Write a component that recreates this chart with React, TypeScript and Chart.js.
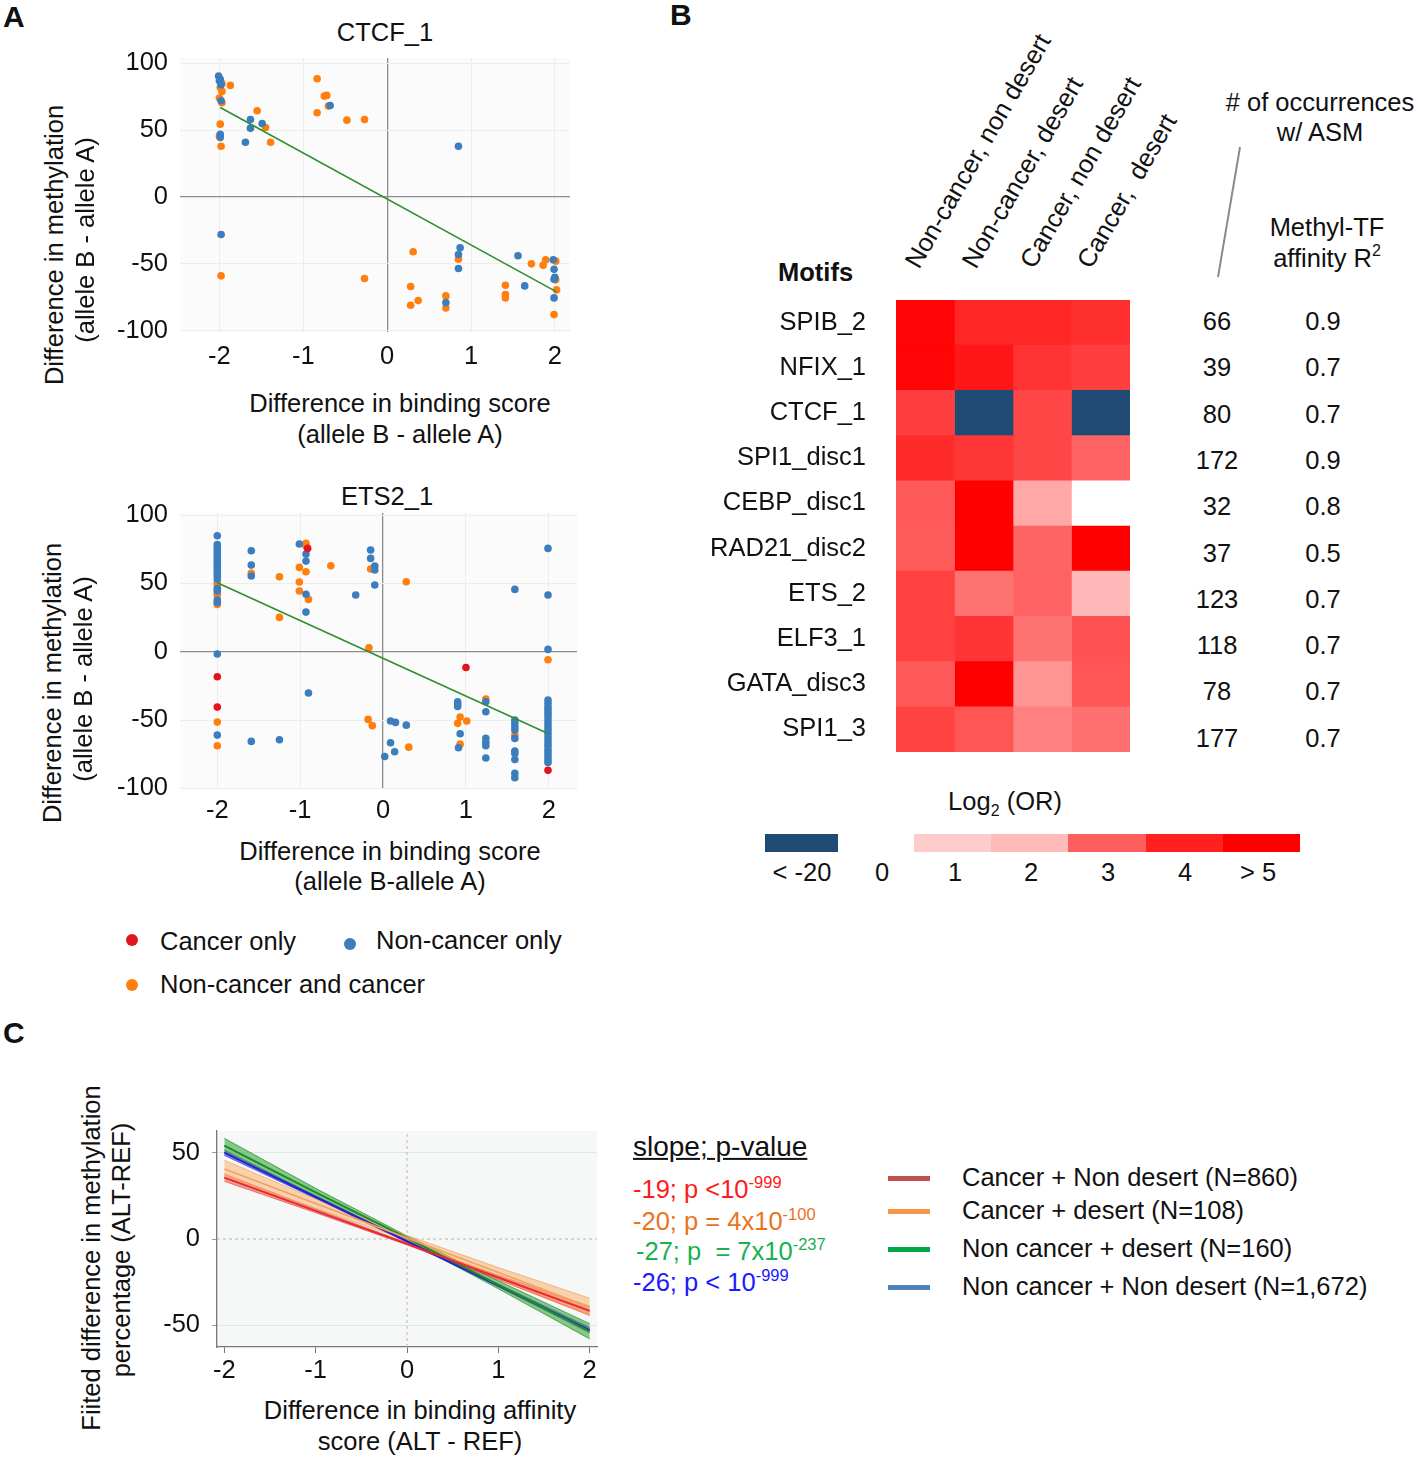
import React, { useEffect, useRef } from 'react';
import { Chart, registerables } from 'chart.js';

Chart.register(...registerables);

const FONT = '"Liberation Sans", Arial, Helvetica, sans-serif';
Chart.defaults.font.family = FONT;

// ---------------- Panel A data ----------------
const A_X_TICKS = [-2, -1, 0, 1, 2];
const A_Y_TICKS = [-100, -50, 0, 50, 100];

const CTCF_ORANGE: [number, number][] = [
  [-1.97, 85], [-1.99, 82], [-1.97, 79], [-2.0, 74], [-1.97, 70.5], [-1.87, 83.5], [-1.99, 54.5],
  [-2.0, 45.5], [-1.98, 38], [-1.98, -59], [-1.55, 64.5], [-1.45, 52], [-1.39, 41], [-0.835, 88.5],
  [-0.75, 75.5], [-0.72, 76], [-0.7, 68], [-0.835, 63], [-0.48, 57.5], [-0.27, 58], [-0.27, -61],
  [0.31, -41], [0.28, -67], [0.28, -81], [0.37, -77.5], [0.7, -74], [0.7, -83], [0.85, -46.5],
  [1.41, -66], [1.41, -73], [1.41, -75.5], [1.72, -50], [1.86, -51], [1.89, -47], [2.01, -48],
  [2.01, -62], [2.02, -69.5], [1.99, -88],
];
const CTCF_BLUE: [number, number][] = [
  [-2.01, 90.5], [-1.99, 88], [-2.0, 87], [-1.98, 84], [-1.98, 72], [-1.99, 47], [-1.99, 44.5],
  [-1.98, -28], [-1.63, 58], [-1.63, 51.5], [-1.49, 55], [-1.69, 41], [-0.68, 68.5], [0.85, 38],
  [0.87, -38], [0.85, -43], [0.85, -53.5], [0.7, -79], [1.56, -44], [1.64, -66.5], [1.98, -47],
  [1.99, -54], [2.0, -60], [1.99, -61.5], [1.99, -75.5],
];
const CTCF_RED: [number, number][] = [];
const CTCF_FIT: [number, number][] = [[-1.99, 67], [2.02, -71]];

const ETS_ORANGE: [number, number][] = [
  [-2, 50.7], [-2, 48.8], [-2, 43.4], [-2, 41.5], [-2, 34.6], [-2, -51.5], [-2, -68.8],
  [-1.59, 57.3], [-1.25, 54.9], [-1.25, 25.1], [-1.01, 61.7], [-1.01, 51], [-1.01, 44.4],
  [-0.93, 79.3], [-0.93, 77.1], [-0.93, 58.5], [-0.9, 38.3], [-0.63, 62.9], [-0.15, 60.5],
  [-0.17, 2.9], [-0.18, -49.5], [-0.13, -54.1], [0.28, 51.2], [0.31, -69.8], [0.9, -52.4],
  [0.93, -47.8], [0.93, -67.6], [1.01, -50.7], [1.24, -34.6], [1.59, -61], [1.99, -5.9],
];
const ETS_BLUE: [number, number][] = [
  [-2, 84.9], [-2, 78.5], [-2, 76.3], [-2, 74.4], [-2, 72.4], [-2, 70.7], [-2, 68.8], [-2, 67.1],
  [-2, 65.4], [-2, 63.4], [-2, 61.5], [-2, 59.5], [-2, 57.3], [-2, 55.4], [-2, 53.2], [-2, 46.3],
  [-2, 44.4], [-2, 37.8], [-2, 36.1], [-2, -1.7], [-2, -61],
  [-1.59, 73.9], [-1.59, 63.4], [-1.59, 55.4], [-1.59, -65.6], [-1.25, -64.4], [-1.01, 78.8],
  [-0.93, 71.5], [-0.93, 66.3], [-0.93, 42], [-0.93, 29], [-0.9, -30.2], [-0.33, 41.5],
  [-0.15, 74.4], [-0.15, 68.3], [-0.1, 62.7], [-0.1, 59.8], [-0.1, 48.8], [0.09, -50.7],
  [0.15, -51.7], [0.28, -53.7], [0.09, -66.6], [0.14, -73.2], [0.02, -76.6], [0.9, -36.6],
  [0.9, -38.3], [0.9, -40], [0.93, -60], [0.91, -70.2], [1.24, -36.6], [1.24, -43.9],
  [1.24, -63.4], [1.24, -66.3], [1.24, -68.8], [1.24, -77.8], [1.59, 45.6], [1.59, -50],
  [1.59, -52.4], [1.59, -54.9], [1.59, -57.3], [1.59, -63.4], [1.59, -72.7], [1.59, -74.4],
  [1.59, -78.8], [1.59, -89], [1.59, -92.2], [1.99, 75.6], [1.99, 41.5], [1.99, 1.7],
  [1.99, -35.4], [1.99, -37.8], [1.99, -40.5], [1.99, -42.7], [1.99, -45.1], [1.99, -47.3],
  [1.99, -50], [1.99, -52.6], [1.99, -54.9], [1.99, -57.3], [1.99, -59.6], [1.99, -62.2],
  [1.99, -64.6], [1.99, -67.1], [1.99, -69.3], [1.99, -72], [1.99, -74.4], [1.99, -76.8],
  [1.99, -79.3], [1.99, -81],
];
const ETS_RED: [number, number][] = [[-2, -18.3], [-2, -40.5], [-0.91, 75.6], [1.0, -11.5], [1.99, -86.8]];
const ETS_FIT: [number, number][] = [[-2, 50.5], [1.99, -59.8]];

// ---------------- Panel B data ----------------
const MOTIFS = ['SPIB_2', 'NFIX_1', 'CTCF_1', 'SPI1_disc1', 'CEBP_disc1', 'RAD21_disc2', 'ETS_2', 'ELF3_1', 'GATA_disc3', 'SPI1_3'];
const CONDITIONS = ['Non-cancer, non desert', 'Non-cancer, desert', 'Cancer, non desert', 'Cancer,  desert'];
const LOG2_OR: number[][] = [
  [4.85, 3.9, 3.9, 3.77],
  [4.85, 4.3, 3.7, 3.5],
  [3.5, -25, 3.38, -25],
  [3.84, 3.65, 3.38, 2.96],
  [3.06, 5.5, 2.2, 0],
  [3.03, 5.5, 2.93, 5.5],
  [3.47, 2.78, 2.96, 2.02],
  [3.47, 3.68, 2.78, 3.2],
  [3.06, 5.5, 2.41, 3.15],
  [3.44, 3.15, 2.63, 2.8],
];
const OCCURRENCES = [66, 39, 80, 172, 32, 37, 123, 118, 78, 177];
const R2 = ['0.9', '0.7', '0.7', '0.9', '0.8', '0.5', '0.7', '0.7', '0.7', '0.7'];
const LEGEND_BINS = [1, 2, 3, 4, 5];
const LEGEND_LABELS = ['< -20', '0', '1', '2', '3', '4', '> 5'];

// ---------------- Panel C data ----------------
const C_X = [-2, -1, 0, 1, 2];
const C_X_TICKS = [-2, -1, 0, 1, 2];
const C_Y_TICKS = [-50, 0, 50];
const C_RED_FIT = [35.5, 16.3, -2.8, -22.3, -41.6];
const C_RED_HI = [37.6, 17.4, -2.2, -21.0, -39.0];
const C_RED_LO = [33.4, 15.2, -3.4, -23.6, -44.2];
const C_ORANGE_FIT = [40.5, 20.5, 0.6, -19.4, -39.3];
const C_ORANGE_HI = [45.6, 23.2, 2.0, -16.5, -34.3];
const C_ORANGE_LO = [35.5, 17.8, -0.8, -22.3, -44.3];
const C_GREEN_FIT = [54.0, 27.0, 0.6, -26.5, -53.4];
const C_GREEN_HI = [58.3, 29.3, 1.8, -24.2, -49.0];
const C_GREEN_LO = [49.8, 24.7, -0.6, -28.8, -57.8];
const C_BLUE_FIT = [50.0, 24.3, -1.3, -26.9, -52.7];
const C_BLUE_HI = [51.6, 25.1, -0.8, -26.1, -51.1];
const C_BLUE_LO = [48.4, 23.5, -1.8, -27.7, -54.3];

// ---------------- helpers ----------------
const ORANGE = '#ff7f0e';
const BLUE = '#3b7dbd';
const RED = '#e3141e';

const HEAT_STOPS: [number, number][] = [[0, 255], [1, 204], [2, 186], [3, 94], [4, 32], [5, 0]];
function heatColor(v: number): string {
  if (v <= -20) return '#1f4a73';
  if (v >= 5) return 'rgb(255,0,0)';
  if (v <= 0) return '#ffffff';
  for (let i = 1; i < HEAT_STOPS.length; i++) {
    const [v0, g0] = HEAT_STOPS[i - 1];
    const [v1, g1] = HEAT_STOPS[i];
    if (v <= v1) {
      const g = Math.round(g0 + ((g1 - g0) * (v - v0)) / (v1 - v0));
      return `rgb(255,${g},${g})`;
    }
  }
  return 'rgb(255,0,0)';
}

const bgPlugin = (id: string, color: string) => ({
  id,
  beforeDraw(chart: any) {
    const { ctx, chartArea: a } = chart;
    ctx.save();
    ctx.fillStyle = color;
    ctx.fillRect(a.left, a.top, a.right - a.left, a.bottom - a.top);
    ctx.restore();
  },
});

// fix the axis box size and drop label-overflow padding so the plot area is deterministic
const fixH = (h: number) => (s: any) => { s.height = h; s.paddingLeft = 0; s.paddingRight = 0; s.paddingTop = 0; s.paddingBottom = 0; };
const fixW = (w: number) => (s: any) => { s.width = w; s.paddingLeft = 0; s.paddingRight = 0; s.paddingTop = 0; s.paddingBottom = 0; };

const pts = (arr: [number, number][]) => arr.map(([x, y]) => ({ x, y }));
const xy = (xs: number[], ys: number[]) => xs.map((x, i) => ({ x, y: ys[i] }));

function ChartBox({ left, top, width, height, make }: { left: number; top: number; width: number; height: number; make: () => any }) {
  const ref = useRef<HTMLCanvasElement>(null);
  useEffect(() => {
    const chart = new Chart(ref.current as HTMLCanvasElement, make());
    return () => chart.destroy();
  }, []);
  return (
    <canvas
      ref={ref}
      width={width}
      height={height}
      style={{ position: 'absolute', left, top, width, height, display: 'block' }}
    />
  );
}

type TP = {
  x: number; y: number; a?: 'l' | 'c' | 'r'; s?: number; w?: number; c?: string; rot?: number;
  children: React.ReactNode; style?: React.CSSProperties;
};
function T({ x, y, a = 'l', s = 25.5, w = 400, c = '#111', rot = 0, children, style }: TP) {
  const tx = a === 'l' ? '0%' : a === 'c' ? '-50%' : '-100%';
  return (
    <div
      style={{
        position: 'absolute', left: x, top: y,
        transform: `translate(${tx},-50%)${rot ? ` rotate(${rot}deg)` : ''}`,
        fontSize: s, fontWeight: w, color: c, whiteSpace: 'pre', lineHeight: 1.15, fontFamily: FONT,
        ...style,
      }}
    >
      {children}
    </div>
  );
}

function scatterConfig(orange: [number, number][], blue: [number, number][], red: [number, number][], fit: [number, number][], xMin: number, xMax: number, yMin: number, yMax: number, tickPad: number) {
  const dot = (data: [number, number][], color: string, order: number) => ({
    data: pts(data), backgroundColor: color, pointBackgroundColor: color, pointRadius: 3.8,
    pointBorderWidth: 0, borderWidth: 0, order,
  });
  return {
    type: 'scatter',
    data: {
      datasets: [
        { data: pts(fit), showLine: true, borderColor: '#2f8f2f', borderWidth: 1.6, pointRadius: 0, order: 0 },
        dot(red, RED, 1),
        dot(blue, BLUE, 2),
        dot(orange, ORANGE, 3),
      ],
    },
    options: {
      responsive: false, animation: false, events: [],
      layout: { padding: { left: 0, right: 10, top: 18, bottom: 0 } },
      plugins: { legend: { display: false }, tooltip: { enabled: false } },
      scales: {
        x: {
          type: 'linear', min: xMin, max: xMax,
          afterBuildTicks: (s: any) => { s.ticks = A_X_TICKS.map((v) => ({ value: v })); },
          afterFit: fixH(48),
          grid: { color: (c: any) => (c.tick && c.tick.value === 0 ? '#8c8c8c' : '#ededed'), lineWidth: (c: any) => (c.tick && c.tick.value === 0 ? 1.3 : 1), drawTicks: false },
          border: { display: false },
          ticks: { padding: tickPad, font: { size: 25.5 }, color: '#111', callback: (v: any) => String(v) },
        },
        y: {
          type: 'linear', min: yMin, max: yMax,
          afterBuildTicks: (s: any) => { s.ticks = A_Y_TICKS.map((v) => ({ value: v })); },
          afterFit: fixW(80),
          grid: { color: (c: any) => (c.tick && c.tick.value === 0 ? '#8c8c8c' : '#ededed'), lineWidth: (c: any) => (c.tick && c.tick.value === 0 ? 1.3 : 1), drawTicks: false },
          border: { display: false },
          ticks: { padding: 12, font: { size: 25.5 }, color: '#111', callback: (v: any) => String(v) },
        },
      },
    },
    plugins: [bgPlugin('bgA', '#fbfbfb')],
  };
}

function heatConfig() {
  return {
    type: 'bar',
    data: {
      labels: MOTIFS,
      datasets: CONDITIONS.map((cond, c) => ({
        label: cond,
        data: MOTIFS.map(() => [c, c + 1]),
        backgroundColor: MOTIFS.map((_, r) => heatColor(LOG2_OR[r][c])),
        borderWidth: 0,
        barPercentage: 1,
        categoryPercentage: 1,
        grouped: false,
      })),
    },
    options: {
      indexAxis: 'y', responsive: false, animation: false, events: [],
      layout: { padding: { left: 0, right: 10, top: 10, bottom: 8 } },
      plugins: { legend: { display: false }, tooltip: { enabled: false } },
      scales: {
        x: { type: 'linear', min: 0, max: CONDITIONS.length, display: false },
        y: {
          type: 'category',
          grid: { display: false }, border: { display: false },
          ticks: { font: { size: 25.5 }, color: '#111', padding: 22 },
          afterFit: fixW(206),
        },
      },
    },
  };
}

function cConfig() {
  const band = (lo: number[], hi: number[], loIdx: number, fill: string, edge: string, order: number) => [
    { data: xy(C_X, lo), borderWidth: 1, borderColor: edge, pointRadius: 0, fill: false, order },
    { data: xy(C_X, hi), borderWidth: 1, borderColor: edge, pointRadius: 0, fill: { target: loIdx }, backgroundColor: fill, order },
  ];
  const line = (ys: number[], color: string, order: number, w = 2) => ({
    data: xy(C_X, ys), borderColor: color, borderWidth: w, pointRadius: 0, fill: false, order,
  });
  const datasets: any[] = [
    { data: [{ x: -2.08, y: 0 }, { x: 2.08, y: 0 }], borderColor: '#b5b5b5', borderWidth: 1, borderDash: [3, 3], pointRadius: 0, fill: false, order: 30 },
    { data: [{ x: 0, y: -62.5 }, { x: 0, y: 62.5 }], borderColor: '#b5b5b5', borderWidth: 1, borderDash: [3, 3], pointRadius: 0, fill: false, order: 30 },
    ...band(C_BLUE_LO, C_BLUE_HI, 2, 'rgba(55,55,225,0.6)', 'rgba(40,40,200,0.6)', 14),
    ...band(C_GREEN_LO, C_GREEN_HI, 4, 'rgba(60,170,60,0.6)', 'rgba(30,140,30,0.7)', 13),
    ...band(C_RED_LO, C_RED_HI, 6, 'rgba(240,80,80,0.55)', 'rgba(230,50,50,0.6)', 12),
    ...band(C_ORANGE_LO, C_ORANGE_HI, 8, 'rgba(250,170,100,0.5)', 'rgba(240,150,80,0.6)', 11),
    line(C_BLUE_FIT, '#2222d8', 4),
    line(C_GREEN_FIT, '#1f8a2a', 3),
    line(C_ORANGE_FIT, '#f4a060', 2, 1.6),
    line(C_RED_FIT, '#e82a2a', 1),
  ];
  return {
    type: 'line',
    data: { datasets },
    options: {
      responsive: false, animation: false, events: [],
      layout: { padding: { left: 0, right: 13, top: 21, bottom: 0 } },
      plugins: { legend: { display: false }, tooltip: { enabled: false } },
      scales: {
        x: {
          type: 'linear', min: -2.08, max: 2.08,
          afterBuildTicks: (s: any) => { s.ticks = C_X_TICKS.map((v) => ({ value: v })); },
          afterFit: fixH(43),
          grid: { display: true, drawOnChartArea: false, drawTicks: true, tickLength: 6, tickColor: '#777' },
          border: { display: true, color: '#777', width: 1.3 },
          ticks: { padding: 3, font: { size: 25.5 }, color: '#111', callback: (v: any) => String(v) },
        },
        y: {
          type: 'linear', min: -62.5, max: 62.5,
          afterBuildTicks: (s: any) => { s.ticks = C_Y_TICKS.map((v) => ({ value: v })); },
          afterFit: fixW(77),
          grid: { color: (c: any) => (c.tick && c.tick.value === 0 ? 'rgba(0,0,0,0)' : '#dde8e4'), drawTicks: true, tickLength: 5, tickColor: '#999' },
          border: { display: true, color: '#777', width: 1.3 },
          ticks: { padding: 12, font: { size: 25.5 }, color: '#111', callback: (v: any) => String(v) },
        },
      },
    },
    plugins: [bgPlugin('bgC', '#f6f8f7')],
  };
}

const COL_START_X = [919, 976, 1034, 1091];
const C_SLOPES: { main: string; sup: string; color: string; y: number; x: number }[] = [
  { main: '-19; p <10', sup: '-999', color: '#ff1a1a', y: 1190, x: 633 },
  { main: '-20; p = 4x10', sup: '-100', color: '#e8741c', y: 1222, x: 633 },
  { main: '-27; p  = 7x10', sup: '-237', color: '#19b04f', y: 1252, x: 636 },
  { main: '-26; p < 10', sup: '-999', color: '#1a1aff', y: 1283, x: 633 },
];
const C_LEGEND: { label: string; color: string; y: number }[] = [
  { label: 'Cancer + Non desert (N=860)', color: '#c0504d', y: 1178 },
  { label: 'Cancer + desert (N=108)', color: '#f79646', y: 1211 },
  { label: 'Non cancer + desert (N=160)', color: '#00a84a', y: 1249 },
  { label: 'Non cancer + Non desert (N=1,672)', color: '#4f81bd', y: 1287 },
];

export default function App() {
  const rowH = 46.3;
  const segW = 77.2;
  return (
    <div style={{ position: 'absolute', left: 0, top: 0, width: 1418, height: 1458, background: '#fff', overflow: 'hidden', fontFamily: FONT }}>
      {/* Panel letters */}
      <T x={3} y={17} s={30} w={700}>A</T>
      <T x={670} y={15} s={30} w={700}>B</T>
      <T x={3} y={1033} s={30} w={700}>C</T>

      {/* Panel A top */}
      <T x={385} y={33} a="c">CTCF_1</T>
      <ChartBox left={100} top={40} width={480} height={340}
        make={() => scatterConfig(CTCF_ORANGE, CTCF_BLUE, CTCF_RED, CTCF_FIT, -2.47, 2.18, -101, 104, 10)} />
      <T x={55} y={245} a="c" rot={-90}>Difference in methylation</T>
      <T x={86} y={240} a="c" rot={-90}>(allele B - allele A)</T>
      <T x={400} y={404} a="c">Difference in binding score</T>
      <T x={400} y={435} a="c">(allele B - allele A)</T>

      {/* Panel A bottom */}
      <T x={387} y={497} a="c">ETS2_1</T>
      <ChartBox left={100} top={495} width={487} height={341}
        make={() => scatterConfig(ETS_ORANGE, ETS_BLUE, ETS_RED, ETS_FIT, -2.45, 2.34, -99.7, 101.5, 8)} />
      <T x={53} y={683} a="c" rot={-90}>Difference in methylation</T>
      <T x={84} y={679} a="c" rot={-90}>(allele B - allele A)</T>
      <T x={390} y={852} a="c">Difference in binding score</T>
      <T x={390} y={882} a="c">(allele B-allele A)</T>

      {/* Panel A legend */}
      <div style={{ position: 'absolute', left: 126, top: 934, width: 12, height: 12, borderRadius: 6, background: RED }} />
      <T x={160} y={942}>Cancer only</T>
      <div style={{ position: 'absolute', left: 344, top: 938, width: 12, height: 12, borderRadius: 6, background: BLUE }} />
      <T x={376} y={941}>Non-cancer only</T>
      <div style={{ position: 'absolute', left: 126, top: 979, width: 12, height: 12, borderRadius: 6, background: ORANGE }} />
      <T x={160} y={985}>Non-cancer and cancer</T>

      {/* Panel B */}
      {CONDITIONS.map((cond, i) => (
        <div key={cond} style={{
          position: 'absolute', left: COL_START_X[i], top: 270 - 22, fontSize: 25.5, lineHeight: '26px',
          whiteSpace: 'pre', color: '#111', fontFamily: FONT, transformOrigin: '0px 22px', transform: 'rotate(-60deg)',
        }}>{cond}</div>
      ))}
      <T x={778} y={273} w={700}>Motifs</T>
      <ChartBox left={690} top={290} width={450} height={470} make={heatConfig} />
      <T x={1320} y={103} a="c">{'# of occurrences'}</T>
      <T x={1320} y={133} a="c">w/ ASM</T>
      <T x={1327} y={228} a="c">Methyl-TF</T>
      <T x={1327} y={259} a="c">affinity R<sup style={{ fontSize: 16, verticalAlign: 'top', position: 'relative', top: -2 }}>2</sup></T>
      <div style={{ position: 'absolute', left: 1228.2, top: 146, width: 1.5, height: 132, background: '#8a8a8a', transform: 'rotate(9.6deg)' }} />
      {OCCURRENCES.map((n, i) => (
        <T key={'o' + i} x={1217} y={322 + i * rowH} a="c">{String(n)}</T>
      ))}
      {R2.map((r, i) => (
        <T key={'r' + i} x={1323} y={322 + i * rowH} a="c">{r}</T>
      ))}
      <T x={1005} y={802} a="c">Log<sub style={{ fontSize: 16, verticalAlign: 'baseline', position: 'relative', top: 6 }}>2</sub> (OR)</T>
      <div style={{ position: 'absolute', left: 765, top: 834, width: 73, height: 18, background: heatColor(-25) }} />
      {LEGEND_BINS.map((v, i) => (
        <div key={'lb' + v} style={{ position: 'absolute', left: 914 + i * segW, top: 834, width: segW + 0.5, height: 18, background: heatColor(v) }} />
      ))}
      {LEGEND_LABELS.map((lab, i) => {
        const xs = [802, 882, 955, 1031, 1108, 1185, 1258];
        return <T key={'ll' + i} x={xs[i]} y={873} a="c">{lab}</T>;
      })}

      {/* Panel C */}
      <ChartBox left={140} top={1110} width={470} height={280} make={cConfig} />
      <T x={92} y={1258} a="c" rot={-90}>Fiited difference in methylation</T>
      <T x={122} y={1250} a="c" rot={-90}>percentage (ALT-REF)</T>
      <T x={420} y={1411} a="c">Difference in binding affinity</T>
      <T x={420} y={1442} a="c">score (ALT - REF)</T>

      <T x={633} y={1147} s={28} style={{ textDecoration: 'underline' }}>slope; p-value</T>
      {C_SLOPES.map((it) => (
        <T key={it.main} x={it.x} y={it.y} c={it.color}>
          {it.main}
          <span style={{ fontSize: 16.5, position: 'relative', top: -10 }}>{it.sup}</span>
        </T>
      ))}
      {C_LEGEND.map((it) => (
        <React.Fragment key={it.label}>
          <div style={{ position: 'absolute', left: 888, top: it.y - 2.5, width: 42, height: 5, background: it.color }} />
          <T x={962} y={it.y}>{it.label}</T>
        </React.Fragment>
      ))}
    </div>
  );
}
